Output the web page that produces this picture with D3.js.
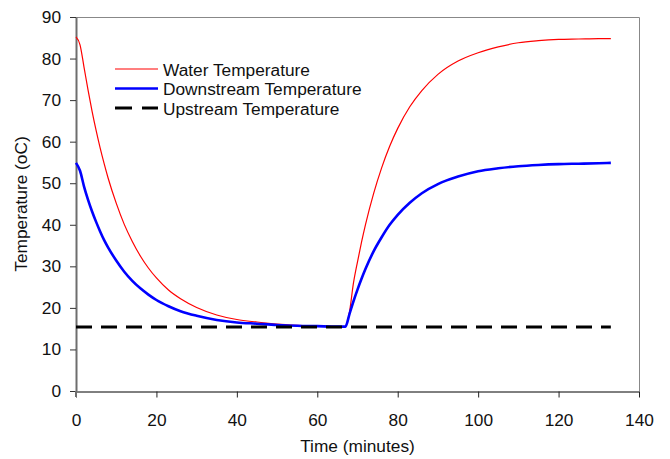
<!DOCTYPE html>
<html>
<head>
<meta charset="utf-8">
<script src="https://cdn.jsdelivr.net/npm/d3@7"></script>
<style>
  body { margin: 0; background: #fff; }
  text { font-family: 'Liberation Sans', Arial, sans-serif; }
</style>
</head>
<body>
<script>
// values
var times = [0, 1, 2, 3, 4, 5, 6, 7, 8, 10, 12, 14, 16, 18, 20, 23, 26, 30, 35, 40, 45, 50, 55, 60, 65, 67,
    68, 69, 70, 71, 72, 74, 76, 78, 80, 83, 86, 90, 95, 100, 105, 110, 115, 120, 125, 130, 133]
var waterTemp = [85.2, 83.3, 77.9, 72.4, 67.3, 62.7, 58.5, 54.7, 51.2, 45.2, 40.1, 36.0, 32.5, 29.6, 27.2, 24.3, 22.2, 20.1, 18.3, 17.2, 16.6, 16.1, 15.8, 15.6, 15.5, 15.5,
    19.0, 26.0, 31.1, 35.8, 40.1, 47.5, 53.7, 58.9, 63.2, 68.4, 72.3, 76.2, 79.4, 81.4, 82.8, 83.8, 84.3, 84.6, 84.7, 84.8, 84.8]
var downstreamTemp = [54.9, 53.0, 49.2, 46.0, 43.2, 40.7, 38.4, 36.3, 34.5, 31.4, 28.7, 26.5, 24.7, 23.2, 21.9, 20.4, 19.2, 18.1, 17.1, 16.5, 16.2, 15.9, 15.7, 15.6, 15.5, 15.5,
    18.5, 21.6, 24.4, 27.0, 29.4, 33.6, 37.0, 40.0, 42.4, 45.3, 47.6, 49.8, 51.6, 52.9, 53.6, 54.1, 54.4, 54.6, 54.7, 54.8, 54.9]
var upstreamTimes = [0, 133]
var upstreamTemp = [15.4, 15.4]

var xTicks = [0, 20, 40, 60, 80, 100, 120, 140]
var yTicks = [0, 10, 20, 30, 40, 50, 60, 70, 80, 90]

var series = [
    {name: 'Water Temperature', t: times, v: waterTemp, color: '#ff0000', width: 1.2, dash: null},
    {name: 'Downstream Temperature', t: times, v: downstreamTemp, color: '#0000ff', width: 2.6, dash: null},
    {name: 'Upstream Temperature', t: upstreamTimes, v: upstreamTemp, color: '#000', width: 3.2, dash: '16,9'}
]

var width = 670
var height = 459
var margin = {top: 17, right: 31, bottom: 68, left: 76}
var fontSize = '17.3px'

var svg = d3.select('body').append('svg')
    .attr('width', width)
    .attr('height', height)

var x = d3.scaleLinear().domain([0, 140]).range([margin.left, width - margin.right])
var y = d3.scaleLinear().domain([0, 90]).range([height - margin.bottom, margin.top])

// plot frame: top and right in grey
svg.append('path')
    .attr('d', 'M' + x(0) + ',' + (y(90) + 0.5) + 'H' + (x(140) + 0.5) + 'V' + y(0))
    .attr('fill', 'none')
    .attr('stroke', '#888')
    .attr('stroke-width', 1)

var xAxis = svg.append('g')
    .attr('transform', 'translate(0,' + (y(0) + 0.5) + ')')
    .call(d3.axisBottom(x).tickValues(xTicks).tickSize(6).tickSizeOuter(0).tickPadding(16))
xAxis.select('.domain').attr('stroke', '#000')
xAxis.selectAll('.tick line').attr('stroke', '#222')
xAxis.selectAll('text').attr('font-size', fontSize).attr('fill', '#111')
    .attr('font-family', "'Liberation Sans', Arial, sans-serif")

var yAxis = svg.append('g')
    .attr('transform', 'translate(' + x(0) + ',0)')
    .call(d3.axisLeft(y).tickValues(yTicks).tickSize(6).tickSizeOuter(0).tickPadding(9))
yAxis.select('.domain').attr('stroke', '#6e6e6e').attr('stroke-width', 2)
yAxis.selectAll('.tick line').attr('stroke', '#333')
yAxis.selectAll('text').attr('font-size', fontSize).attr('fill', '#111')
    .attr('font-family', "'Liberation Sans', Arial, sans-serif")

// left axis line runs down past the x axis like the 0 tick
svg.append('line')
    .attr('x1', x(0)).attr('x2', x(0))
    .attr('y1', y(0)).attr('y2', y(0) + 6)
    .attr('stroke', '#6e6e6e').attr('stroke-width', 2)

var line = d3.line()
    .x(d => x(d[0]))
    .y(d => y(d[1]))
    .curve(d3.curveMonotoneX)

series.forEach(s => {
    var pts = s.t.map((t, i) => [t, s.v[i]])
    svg.append('path')
        .datum(pts)
        .attr('d', line)
        .attr('fill', 'none')
        .attr('stroke', s.color)
        .attr('stroke-width', s.width)
        .attr('stroke-dasharray', s.dash)
})

// legend
var legend = svg.append('g')
    .attr('transform', 'translate(115,69)')
series.forEach((s, i) => {
    var row = legend.append('g').attr('transform', 'translate(0,' + (i * 19.5) + ')')
    row.append('line')
        .attr('x1', 0).attr('x2', 43)
        .attr('stroke', s.color)
        .attr('stroke-width', s.width)
        .attr('stroke-dasharray', s.dash ? '17,10' : null)
    row.append('text')
        .attr('x', 48)
        .attr('y', 6.5)
        .attr('font-size', fontSize)
        .attr('fill', '#111')
        .text(s.name)
})

svg.append('text')
    .attr('x', (x(0) + x(140)) / 2)
    .attr('y', 452)
    .attr('text-anchor', 'middle')
    .attr('font-size', fontSize)
    .attr('fill', '#111')
    .text('Time (minutes)')

svg.append('text')
    .attr('transform', 'translate(27,' + ((y(0) + y(90)) / 2) + ') rotate(-90)')
    .attr('text-anchor', 'middle')
    .attr('font-size', fontSize)
    .attr('fill', '#111')
    .text('Temperature (oC)')
</script>
</body>
</html>
